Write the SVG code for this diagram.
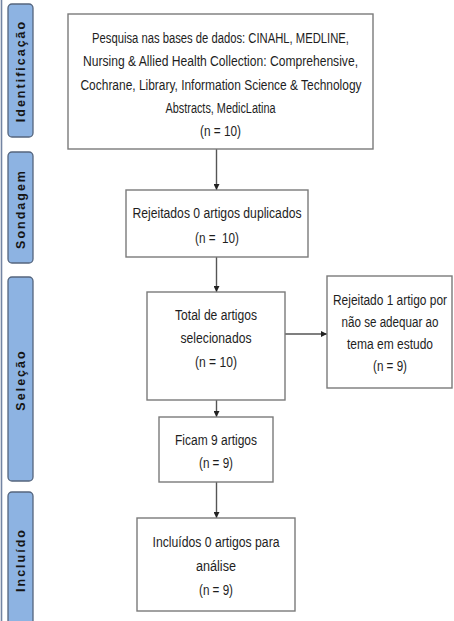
<svg xmlns="http://www.w3.org/2000/svg" width="454" height="621" viewBox="0 0 454 621">
<defs>
<style>
.box{fill:#fff;stroke:#7a7a7a;stroke-width:1.4}
.pill{fill:#8db3e2;stroke:#55657d;stroke-width:1.3}
.t{font-family:"Liberation Sans",Arial,sans-serif;font-size:15.5px;fill:#1e1e1e;text-anchor:middle}
.pt{font-family:"Liberation Sans",Arial,sans-serif;font-size:12.5px;font-weight:bold;fill:#151515;text-anchor:middle;letter-spacing:2px}
.c{stroke:#555;stroke-width:1.4;fill:none;marker-end:url(#ah)}
</style>
<marker id="ah" viewBox="0 0 10 10" refX="10" refY="5" markerWidth="6" markerHeight="6" markerUnits="userSpaceOnUse" orient="auto">
<path d="M0,0 L10,5 L0,10 z" fill="#222"/>
</marker>
</defs>
<rect width="454" height="621" fill="#fff"/>
<line x1="1.5" y1="0" x2="1.5" y2="621" stroke="#7384a2" stroke-width="1.6"/>

<g id="lane-identificacao">
<rect class="pill" x="8" y="4" width="25" height="133" rx="4"/>
<text class="pt" transform="translate(24.5,71) rotate(-90)">Identificação</text>
</g>
<g id="lane-sondagem">
<rect class="pill" x="8" y="152" width="25" height="111" rx="4"/>
<text class="pt" transform="translate(24.5,209) rotate(-90)">Sondagem</text>
</g>
<g id="lane-selecao">
<rect class="pill" x="8" y="277" width="25" height="204" rx="4"/>
<text class="pt" transform="translate(24.5,380) rotate(-90)">Seleção</text>
</g>
<g id="lane-incluido">
<rect class="pill" x="8" y="492" width="25" height="136" rx="4"/>
<text class="pt" transform="translate(24.5,560) rotate(-90)">Incluído</text>
</g>

<g id="connectors">
<line class="c" x1="216.5" y1="149" x2="216.5" y2="190"/>
<line class="c" x1="216.5" y1="257" x2="216.5" y2="292"/>
<line class="c" x1="285" y1="334" x2="327" y2="334"/>
<line class="c" x1="216.5" y1="400" x2="216.5" y2="417"/>
<line class="c" x1="216.5" y1="482" x2="216.5" y2="518"/>
</g>

<g id="n1">
<rect class="box" x="68" y="14" width="305" height="135"/>
<text class="t" x="220.5" y="43" textLength="257" lengthAdjust="spacingAndGlyphs">Pesquisa nas bases de dados: CINAHL, MEDLINE,</text>
<text class="t" x="220.5" y="66" textLength="275" lengthAdjust="spacingAndGlyphs">Nursing &amp; Allied Health Collection: Comprehensive,</text>
<text class="t" x="221" y="89.5" textLength="281" lengthAdjust="spacingAndGlyphs">Cochrane, Library, Information Science &amp; Technology</text>
<text class="t" x="220.5" y="113" textLength="110" lengthAdjust="spacingAndGlyphs">Abstracts, MedicLatina</text>
<text class="t" x="220.5" y="136" textLength="41" lengthAdjust="spacingAndGlyphs">(n = 10)</text>
</g>

<g id="n2">
<rect class="box" x="126" y="190" width="182" height="67"/>
<text class="t" x="217" y="218" textLength="169" lengthAdjust="spacingAndGlyphs">Rejeitados 0 artigos duplicados</text>
<text class="t" x="217" y="243" textLength="44" lengthAdjust="spacingAndGlyphs" xml:space="preserve">(n =  10)</text>
</g>

<g id="n3">
<rect class="box" x="147" y="292" width="138" height="108"/>
<text class="t" x="216" y="320" textLength="82" lengthAdjust="spacingAndGlyphs">Total de artigos</text>
<text class="t" x="216" y="343" textLength="71" lengthAdjust="spacingAndGlyphs">selecionados</text>
<text class="t" x="216" y="367" textLength="42" lengthAdjust="spacingAndGlyphs">(n = 10)</text>
</g>

<g id="n4">
<rect class="box" x="327" y="276" width="125" height="112"/>
<text class="t" x="390" y="305" textLength="114" lengthAdjust="spacingAndGlyphs">Rejeitado 1 artigo por</text>
<text class="t" x="390" y="327" textLength="97" lengthAdjust="spacingAndGlyphs">não se adequar ao</text>
<text class="t" x="390" y="349" textLength="86" lengthAdjust="spacingAndGlyphs">tema em estudo</text>
<text class="t" x="390" y="371" textLength="34" lengthAdjust="spacingAndGlyphs">(n = 9)</text>
</g>

<g id="n5">
<rect class="box" x="159" y="417" width="114" height="65"/>
<text class="t" x="216" y="445" textLength="82" lengthAdjust="spacingAndGlyphs">Ficam 9 artigos</text>
<text class="t" x="216" y="468" textLength="34" lengthAdjust="spacingAndGlyphs">(n = 9)</text>
</g>

<g id="n6">
<rect class="box" x="137" y="518" width="158" height="93"/>
<text class="t" x="216" y="547" textLength="127" lengthAdjust="spacingAndGlyphs">Incluídos 0 artigos para</text>
<text class="t" x="216" y="571" textLength="40" lengthAdjust="spacingAndGlyphs">análise</text>
<text class="t" x="216" y="595" textLength="34" lengthAdjust="spacingAndGlyphs">(n = 9)</text>
</g>
</svg>
